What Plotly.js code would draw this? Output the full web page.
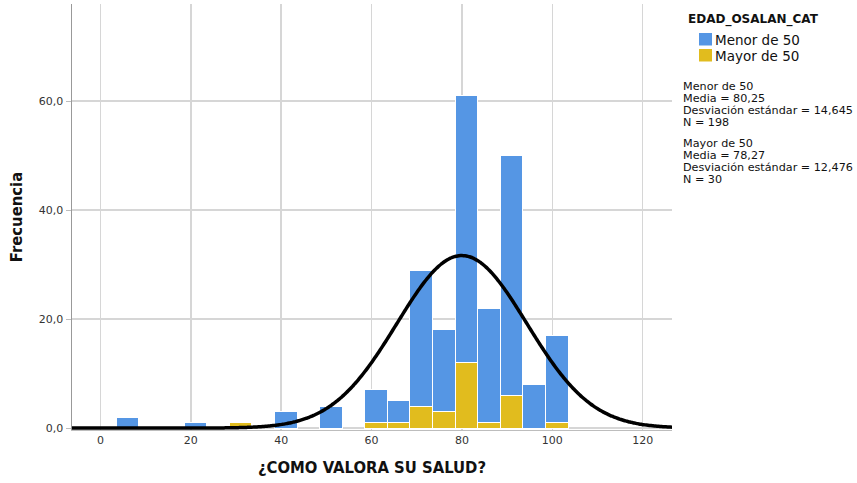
<!DOCTYPE html>
<html>
<head>
<meta charset="utf-8">
<script src="https://cdn.plot.ly/plotly-3.0.1.min.js"></script>
<style>html,body{margin:0;padding:0;background:#fff;}#chart{width:857px;height:483px;}</style>
</head>
<body>
<div id="chart"></div>
<script>
// Histogram bin centres (bin width 5)
const binCenters = [6, 21, 31, 41, 51, 61, 66, 71, 76, 81, 86, 91, 96, 101];
// Counts per bin for each group (stacked: Mayor at bottom, Menor on top)
const menorCounts = [2, 1, 0, 3, 4, 6, 4, 25, 15, 49, 21, 44, 8, 16];
const mayorCounts = [0, 0, 1, 0, 0, 1, 1, 4, 3, 12, 1, 6, 0, 1];
const groupNames = ["Menor de 50", "Mayor de 50"];
const legendTitle = "EDAD_OSALAN_CAT";
const xTicks = [0, 20, 40, 60, 80, 100, 120];
const yTicks = [0, 20, 40, 60];
const statsLines = [
  "Menor de 50", "Media = 80,25", "Desviación estándar = 14,645", "N = 198",
  "Mayor de 50", "Media = 78,27", "Desviación estándar = 12,476", "N = 30"
];
// Normal curve fitted to the whole sample (N = 228)
const curveMean = 79.99;
const curveSD = 14.37;
const curveN = 228;
const binWidth = 5;

const xMin = -6.3, xMax = 126.5;
const curveX = [], curveY = [];
for (let i = 0; i <= 400; i++) {
  const x = xMin + (xMax - xMin) * i / 400;
  const z = (x - curveMean) / curveSD;
  curveX.push(x);
  curveY.push(curveN * binWidth * Math.exp(-0.5 * z * z) / (curveSD * Math.sqrt(2 * Math.PI)));
}

const BLUE = "#5596e4", YELLOW = "#e1bc1e";
const groupColors = [BLUE, YELLOW];
const traces = [
  {type: "bar", name: groupNames[1], x: binCenters, y: mayorCounts, width: binWidth,
   marker: {color: YELLOW, line: {color: "#ffffff", width: 1}}, hoverinfo: "x+y"},
  {type: "bar", name: groupNames[0], x: binCenters, y: menorCounts, width: binWidth,
   marker: {color: BLUE, line: {color: "#ffffff", width: 1}}, hoverinfo: "x+y"},
  {type: "scatter", mode: "lines", x: curveX, y: curveY, showlegend: false,
   line: {color: "#000000", width: 3.5, shape: "spline"}, hoverinfo: "skip"}
];

// pixel -> paper helpers for the side panel
const M = {l: 72, r: 185, t: 4, b: 53};
const plotW = 857 - M.l - M.r, plotH = 483 - M.t - M.b;
const px = v => (v - M.l) / plotW;
const py = v => 1 - (v - M.t) / plotH;

const annotations = [];
const shapes = [];
// legend title
annotations.push({text: "<b>" + legendTitle + "</b>", xref: "paper", yref: "paper",
  x: px(687), y: py(20), xanchor: "left", yanchor: "middle", showarrow: false, borderpad: 0,
  font: {family: "DejaVu Sans", size: 12, color: "#111"}});
// legend items
const itemY = [39.5, 55.5];
groupNames.forEach((g, i) => {
  shapes.push({type: "rect", xref: "paper", yref: "paper",
    x0: px(699), x1: px(712), y0: py(itemY[i] - 6.5), y1: py(itemY[i] + 6),
    fillcolor: groupColors[i], line: {width: 0}});
  annotations.push({text: g, xref: "paper", yref: "paper",
    x: px(714), y: py(itemY[i]), xanchor: "left", yanchor: "middle", showarrow: false, borderpad: 0,
    font: {family: "DejaVu Sans", size: 13.5, color: "#111"}});
});
// statistics block
const lineY = [86.5, 98.5, 110.5, 122.5, 143.5, 155.5, 167.5, 179.5];
statsLines.forEach((t, i) => {
  annotations.push({text: t, xref: "paper", yref: "paper", x: px(682), y: py(lineY[i]),
    xanchor: "left", yanchor: "middle", showarrow: false, borderpad: 0,
    font: {family: "DejaVu Sans", size: 11.2, color: "#111"}});
});

const titleFont = {family: "DejaVu Sans Condensed, Liberation Sans Narrow, DejaVu Sans", size: 16.5, color: "#111", weight: "bold"};
const layout = {
  width: 857, height: 483,
  margin: M,
  paper_bgcolor: "#ffffff", plot_bgcolor: "#ffffff",
  barmode: "stack", bargap: 0,
  separators: ",.",
  font: {family: "DejaVu Sans", color: "#333"},
  xaxis: {
    range: [xMin, xMax], tickvals: xTicks, ticktext: xTicks.map(String),
    showgrid: true, gridcolor: "#d6d6d6", gridwidth: 1.5, zeroline: false,
    showline: true, linecolor: "#bdbdbd", linewidth: 1, ticks: "",
    tickfont: {family: "DejaVu Sans", size: 11, color: "#333"},
    title: {text: "¿COMO VALORA SU SALUD?", standoff: 15, font: titleFont}
  },
  yaxis: {
    range: [-0.35, 77.8], tickvals: yTicks, tickformat: ".1f",
    showgrid: true, gridcolor: "#d6d6d6", gridwidth: 1.5, zeroline: false,
    showline: true, linecolor: "#999999", linewidth: 1.5,
    ticks: "outside", ticklen: 5, tickcolor: "#bdbdbd",
    tickfont: {family: "DejaVu Sans", size: 11, color: "#333"},
    title: {text: "Frecuencia", standoff: 12, font: titleFont}
  },
  annotations: annotations,
  shapes: shapes,
  showlegend: false
};

Plotly.newPlot("chart", traces, layout, {displayModeBar: false, staticPlot: true});
</script>
</body>
</html>
